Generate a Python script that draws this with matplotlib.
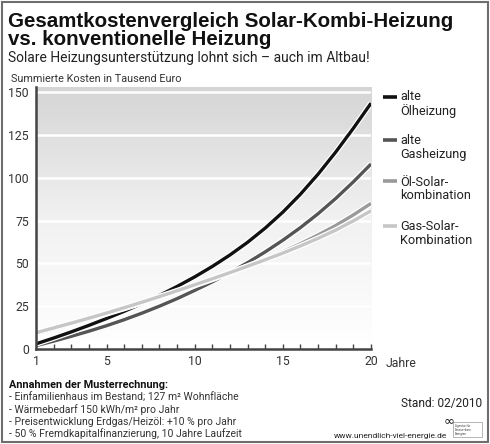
import numpy as np
import matplotlib
matplotlib.use("Agg")
import matplotlib.pyplot as plt
import matplotlib.patheffects as pe
from matplotlib.patches import Rectangle
from matplotlib.colors import LinearSegmentedColormap

# ---- data ----
years = list(range(1, 21))
oel_alt = [3, 6.4, 10, 13.8, 17.8, 22, 26.5, 31.3, 36.5, 42.1, 48.2, 54.9, 62.3, 70.6, 79.9, 90.4, 102.1, 115, 128.9, 143.5]
gas_alt = [2, 4.6, 7.4, 10.4, 13.6, 17.1, 20.9, 25, 29.4, 34.2, 39.2, 44.6, 50.4, 56.7, 63.5, 70.9, 79, 87.9, 97.6, 108]
oel_solar = [9, 11.8, 14.7, 17.6, 20.6, 23.7, 26.9, 30.2, 33.6, 37.1, 40.7, 44.4, 48.3, 52.4, 56.8, 61.5, 66.6, 72.1, 78.3, 85]
gas_solar = [9.5, 12.3, 15.1, 18.0, 21.0, 24.1, 27.3, 30.6, 34.0, 37.5, 41.0, 44.6, 48.3, 52.1, 56.0, 60.2, 64.6, 69.4, 74.8, 80.7]
series_labels = ["alte\nÖlheizung", "alte\nGasheizung", "Öl-Solar-\nkombination", "Gas-Solar-\nKombination"]
yticks = [0, 25, 50, 75, 100, 125, 150]
xtick_vals = [1, 5, 10, 15, 20]
notes = ["- Einfamilienhaus im Bestand; 127 m² Wohnfläche",
         "- Wärmebedarf 150 kWh/m² pro Jahr",
         "- Preisentwicklung Erdgas/Heizöl: +10 % pro Jahr",
         "- 50 % Fremdkapitalfinanzierung, 10 Jahre Laufzeit"]

body = ["Roboto", "DejaVu Sans"]
plt.rcParams['font.family'] = body

W, H = 490, 444
fig = plt.figure(figsize=(W / 100, H / 100), dpi=100)
fig.patch.set_facecolor("white")

# frame
fig.add_artist(Rectangle((2 / W, 2 / H), (W - 4) / W, (H - 4) / H, transform=fig.transFigure,
                         fill=False, edgecolor="#6e6e6e", linewidth=1.5))

ax = fig.add_axes([36 / W, 95 / H, (371 - 36) / W, (349 - 87.3) / H])
ymax = 152.8
ax.set_xlim(1, 20)
ax.set_ylim(0, ymax)

# gradient background
grad = np.linspace(0, 1, 256).reshape(-1, 1)
cmap = LinearSegmentedColormap.from_list("g", ["#ffffff", "#f1f1f1", "#d5d5d5"])
ax.imshow(grad, aspect="auto", cmap=cmap, extent=[1, 20, 0, ymax], origin="lower", zorder=0)

for yv in yticks[1:]:
    ax.axhline(yv, color="white", linewidth=1.8, zorder=1)

colors = ["#111111", "#555555", "#9a9a9a", "#c6c6c6"]
data = [oel_alt, gas_alt, oel_solar, gas_solar]
order = [1, 0, 2, 3]
for z, i in enumerate(order):
    ax.plot(years, data[i], color=colors[i], linewidth=2.4, solid_capstyle="butt",
            solid_joinstyle="round", zorder=3 + z,
            path_effects=[pe.Stroke(linewidth=4.2, foreground="white"), pe.Normal()])

for s in ["top", "right"]:
    ax.spines[s].set_visible(False)
for s in ["left", "bottom"]:
    ax.spines[s].set_color("#444444")
    ax.spines[s].set_linewidth(1.8)
    ax.spines[s].set_zorder(10)

ax.set_yticks(yticks)
ax.set_yticklabels([str(v) for v in yticks], fontsize=8.8, color="#333333")
ax.tick_params(axis="y", length=0, pad=5)
ax.set_xticks(xtick_vals)
ax.set_xticks(years, minor=True)
ax.set_xticklabels([str(v) for v in xtick_vals], fontsize=8.8, color="#333333")
ax.tick_params(axis="x", which="both", direction="in", length=3.5, width=1, color="#444444", pad=4.5)
ax.text(20.85, -ymax * 0.0295, "Jahre", fontsize=8.8, color="#333333", ha="left", va="top",
        clip_on=False)

# titles
tfam = ["Liberation Sans", "DejaVu Sans"]
fig.text(8 / W, 1 - 27 / H, "Gesamtkostenvergleich Solar-Kombi-Heizung", fontsize=14.8,
         fontweight="bold", family=tfam, color="#111111", va="baseline")
fig.text(8 / W, 1 - 45 / H, "vs. konventionelle Heizung", fontsize=14.8,
         fontweight="bold", family=tfam, color="#111111", va="baseline")
fig.text(8 / W, 1 - 62 / H, "Solare Heizungsunterstützung lohnt sich – auch im Altbau!",
         fontsize=10, color="#222222", va="baseline")
fig.text(11 / W, 1 - 82 / H, "Summierte Kosten in Tausend Euro", fontsize=7.8, color="#333333", va="baseline")

# legend
leg_y = [96.5, 140, 181.5, 226]
for i, yy in enumerate(leg_y):
    fig.add_artist(plt.Line2D([383 / W, 397 / W], [1 - yy / H, 1 - yy / H], transform=fig.transFigure,
                              color=colors[i], linewidth=2.6, solid_capstyle="butt"))
    fig.text(400 / W, 1 - (yy - 6) / H, series_labels[i], fontsize=9.2, color="#222222",
             va="top", ha="left", linespacing=1.05)

# notes
fig.text(9 / W, 1 - 388 / H, "Annahmen der Musterrechnung:", fontsize=7.8, fontweight="bold",
         color="#111111", va="baseline")
for k, line in enumerate(notes):
    fig.text(9 / W, 1 - (401 + 12.1 * k) / H, line, fontsize=7.5, color="#333333", va="baseline")

fig.text(482 / W, 1 - 407 / H, "Stand: 02/2010", fontsize=8.6, color="#222222", ha="right", va="baseline")
fig.text(447 / W, 1 - 438 / H, "www.unendlich-viel-energie.de", fontsize=6.0, color="#222222",
         ha="right", va="baseline")
fig.text(449 / W, 1 - 424 / H, "∞", fontsize=9.5, color="#111111", ha="center", va="baseline",
         family=["DejaVu Sans"])
fig.add_artist(Rectangle((453 / W, 1 - 437 / H), 29 / W, 15 / H, transform=fig.transFigure,
                         fill=False, edgecolor="#999999", linewidth=0.5))
fig.text(455 / W, 1 - 429.5 / H, "Agentur für\nErneuerbare\nEnergien", fontsize=2.2, color="#444444",
         ha="left", va="center", linespacing=1.0)

fig.savefig("out.png", dpi=100)
